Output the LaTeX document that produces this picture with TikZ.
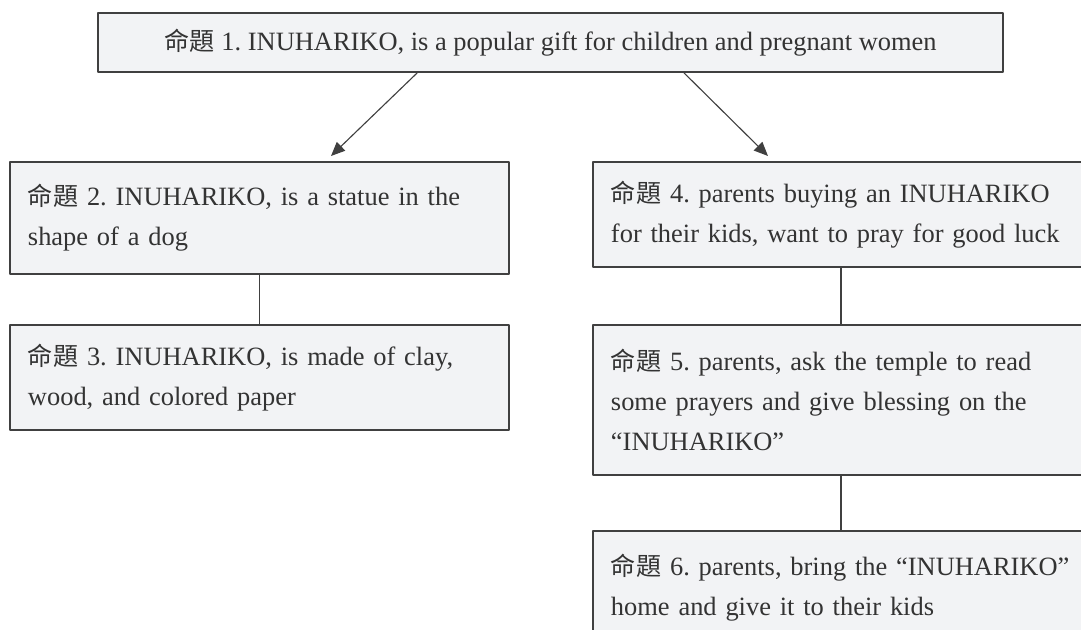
\documentclass[tikz,border=0pt]{standalone}
\usepackage{fontspec}
\setmainfont{Liberation Serif}
\newfontfamily\cjk{Noto Sans CJK TC}[Scale=0.95]
\usetikzlibrary{arrows.meta,calc}

\definecolor{boxfill}{HTML}{F2F3F5}
\definecolor{boxline}{HTML}{404040}
\definecolor{inktext}{HTML}{333333}

\newcommand{\propno}[1]{{\cjk 命題} #1}

\begin{document}
\begin{tikzpicture}[x=0.025cm, y=-0.025cm, line cap=round, line join=round,
    font=\fontsize{18.8}{28.45}\selectfont\frenchspacing,
    topbox/.style={draw=boxline, line width=1.4pt, fill=boxfill, text=inktext,
      anchor=north west, minimum width=22.625cm, minimum height=1.475cm, inner sep=0pt},
    propbox/.style={draw=boxline, line width=1.4pt, fill=boxfill, text=inktext,
      anchor=north west, align=left, text width=11.575cm, inner xsep=0.45cm, inner ysep=0pt},
    rightbox/.style={propbox, text width=12.4cm},
    pointer/.style={draw=boxline, line width=0.8pt, -{Triangle[length=0.35cm, width=0.3cm]}},
    link/.style={draw=boxline, line width=0.8pt}]

  % page frame (the right column runs off the page)
  \useasboundingbox (0,0) rectangle (1081,630);
  \clip (0,0) rectangle (1081,630);

  % top proposition
  \node[topbox] (top) at (97,12)
    {\propno{1. INUHARIKO, is a popular gift for children and pregnant women}};

  % left column
  \node[propbox, minimum height=2.8cm] (b2) at (9,161)
    {\propno{2. INUHARIKO, is a statue in the}\\shape of a dog};
  \node[propbox, minimum height=2.625cm] (b3) at (9,324)
    {\propno{3. INUHARIKO, is made of clay,}\\wood, and colored paper};

  % right column (its right edge lies past the page)
  \coordinate (rstem) at (841,0);
  \node[rightbox, minimum height=2.625cm] (b4) at (592,161)
    {\propno{4. parents buying an INUHARIKO}\\for their kids, want to pray for good luck};
  \node[rightbox, minimum height=3.75cm] (b5) at (592,324)
    {\propno{5. parents, ask the temple to read}\\some prayers and give blessing on the\\``INUHARIKO''};
  \node[rightbox, minimum height=2.85cm] (b6) at (592,530)
    {\propno{6. parents, bring the ``INUHARIKO''}\\home and give it to their kids};

  % connectors
  \draw[pointer] ($(top.south)+(-133.5,0)$) -- ($(b2.north west)+(322,-5)$);
  \draw[pointer] ($(top.south)+(133.5,0)$) -- ($(b4.north west)+(176,-5)$);
  \draw[link] (b2.south) -- (b3.north);
  \draw[link] (b4.south -| rstem) -- (b5.north -| rstem);
  \draw[link] (b5.south -| rstem) -- (b6.north -| rstem);

\end{tikzpicture}
\end{document}
